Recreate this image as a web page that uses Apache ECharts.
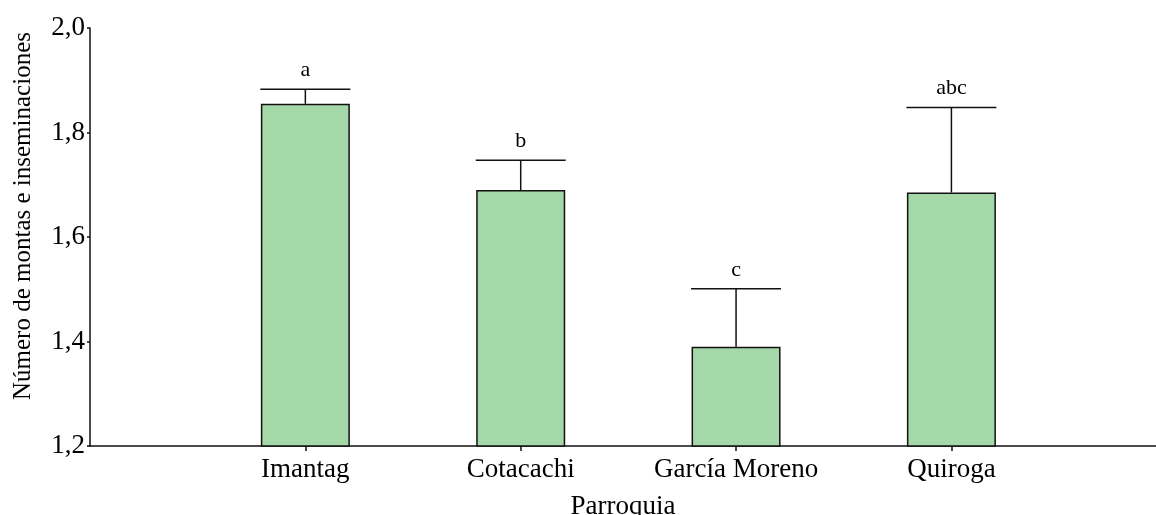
<!DOCTYPE html>
<html>
<head>
<meta charset="utf-8">
<script src="https://cdn.jsdelivr.net/npm/echarts@6/dist/echarts.min.js"></script>
<style>
  html, body { margin: 0; padding: 0; background: #fff; }
  #chart { width: 1156px; height: 515px; }
</style>
</head>
<body>
<div id="chart"></div>
<script>
  // parroquias and their x position on the axis
  var categories = ['Imantag', 'Cotacachi', 'García Moreno', 'Quiroga'];
  var positions = [1, 2, 3, 4];
  // mean number of services
  var means = [1.855, 1.69, 1.39, 1.685];
  // upper end of the error bar
  var upper = [1.883, 1.747, 1.501, 1.848];
  // significance letters
  var letters = ['a', 'b', 'c', 'abc'];

  var font = '"Liberation Serif", "Times New Roman", serif';
  var chart = echarts.init(document.getElementById('chart'));

  var barData = positions.map(function (p, i) { return [p, means[i]]; });
  var errData = positions.map(function (p, i) { return [p, means[i], upper[i]]; });

  var option = {
    animation: false,
    backgroundColor: '#fff',
    grid: { left: 90, right: 0, top: 28, bottom: 69, containLabel: false, outerBoundsMode: 'none' },
    xAxis: {
      type: 'value',
      min: 0,
      max: 4.95,
      name: 'Parroquia',
      nameLocation: 'middle',
      nameGap: 47,
      nameTextStyle: { fontFamily: font, fontSize: 27, color: '#000' },
      splitLine: { show: false },
      axisLine: { lineStyle: { color: '#111', width: 1.5 } },
      axisTick: { customValues: positions, length: 5, lineStyle: { color: '#111', width: 1.5 } },
      axisLabel: {
        customValues: positions,
        fontFamily: font, fontSize: 27, color: '#000', margin: 10,
        formatter: function (v) { return categories[positions.indexOf(v)] || ''; }
      }
    },
    yAxis: {
      type: 'value',
      min: 1.2,
      max: 2.0,
      interval: 0.2,
      splitLine: { show: false },
      axisLine: { show: true, lineStyle: { color: '#111', width: 1.5 } },
      axisTick: { show: true, length: 3, lineStyle: { color: '#111', width: 1.5 } },
      axisLabel: {
        fontFamily: font, fontSize: 27, color: '#000', margin: 5,
        formatter: function (v) { return v.toFixed(1).replace('.', ','); }
      }
    },
    graphic: [{
      type: 'text',
      x: 23, y: 216,
      rotation: Math.PI / 2,
      style: {
        text: 'Número de montas e inseminaciones',
        fontFamily: font, fontSize: 25, fill: '#000',
        align: 'center', verticalAlign: 'middle'
      }
    }],
    series: [
      {
        type: 'bar',
        data: barData,
        barWidth: 89,
        itemStyle: {
          color: '#a4d8a8',
          borderColor: '#111',
          borderWidth: 1.5
        }
      },
      {
        type: 'custom',
        data: errData,
        z: 3,
        renderItem: function (params, api) {
          var base = api.coord([api.value(0), api.value(1)]);
          var top = api.coord([api.value(0), api.value(2)]);
          var half = 45;
          var style = { stroke: '#111', lineWidth: 1.5 };
          return {
            type: 'group',
            children: [
              { type: 'line', shape: { x1: base[0], y1: base[1], x2: top[0], y2: top[1] }, style: style },
              { type: 'line', shape: { x1: top[0] - half, y1: top[1], x2: top[0] + half, y2: top[1] }, style: style },
              {
                type: 'text',
                x: top[0], y: top[1] - 8,
                style: {
                  text: letters[params.dataIndex],
                  fontFamily: font, fontSize: 22, fill: '#000',
                  align: 'center', verticalAlign: 'bottom'
                }
              }
            ]
          };
        }
      }
    ]
  };

  chart.setOption(option);
</script>
</body>
</html>
